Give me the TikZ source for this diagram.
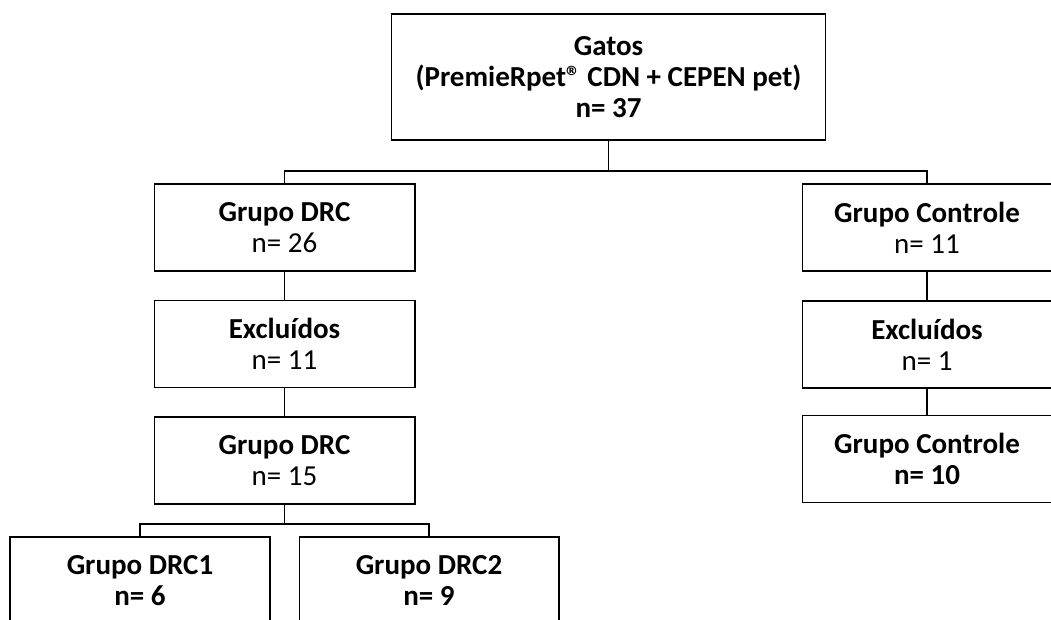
\documentclass[tikz,border=0pt]{standalone}
\usepackage{fontspec}
\setmainfont{Carlito}
\usepackage{tikz}
\usetikzlibrary{positioning}

\begin{document}
\begin{tikzpicture}[x=0.02cm, y=-0.02cm,
    every node/.style={font=\fontsize{16.5}{17.5}\selectfont},
    caixa/.style={draw, line width=0.6pt, align=center, inner sep=0pt, minimum height=1.74cm},
    liga/.style={line width=0.6pt}]
  % Frame
  \useasboundingbox (0,0) rectangle (1051,619);

  % Top box
  \node[caixa, minimum width=8.7cm, minimum height=2.52cm] (gatos) at (608.5,77)
    {\textbf{Gatos}\\ \textbf{(PremieRpet® CDN + CEPEN pet)}\\ \textbf{n= 37}};

  % Left branch
  \node[caixa, minimum width=5.22cm] (drc) at (284.5,227.5) {\textbf{Grupo DRC}\\ n= 26};
  \node[caixa, minimum width=5.22cm] (exdrc) at (284.5,344) {\textbf{Excluídos}\\ n= 11};
  \node[caixa, minimum width=5.22cm] (drcf) at (284.5,460.5) {\textbf{Grupo DRC}\\ n= 15};
  \node[caixa, minimum width=5.2cm] (drcum) at (140,580.5) {\textbf{Grupo DRC1}\\ \textbf{n= 6}};
  \node[caixa, minimum width=5.2cm] (drcdois) at (429,580.5) {\textbf{Grupo DRC2}\\ \textbf{n= 9}};

  % Right branch
  \node[caixa, minimum width=5cm] (ctrl) at (927,227.5) {\textbf{Grupo Controle}\\ n= 11};
  \node[caixa, minimum width=5cm] (exctrl) at (927,344.5) {\textbf{Excluídos}\\ n= 1};
  \node[caixa, minimum width=5cm] (ctrlf) at (927,459) {\textbf{Grupo Controle}\\ \textbf{n= 10}};

  % Connectors
  \coordinate (j1) at (608.5,171);
  \coordinate (j2) at (284.5,524);
  \draw[liga] (gatos.south) -- (j1) -| (drc.north);
  \draw[liga] (j1) -| (ctrl.north);
  \draw[liga] (drc) -- (exdrc);
  \draw[liga] (exdrc) -- (drcf);
  \draw[liga] (drcf.south) -- (j2) -| (drcum.north);
  \draw[liga] (j2) -| (drcdois.north);
  \draw[liga] (ctrl) -- (exctrl);
  \draw[liga] (exctrl) -- (ctrlf);
\end{tikzpicture}
\end{document}
